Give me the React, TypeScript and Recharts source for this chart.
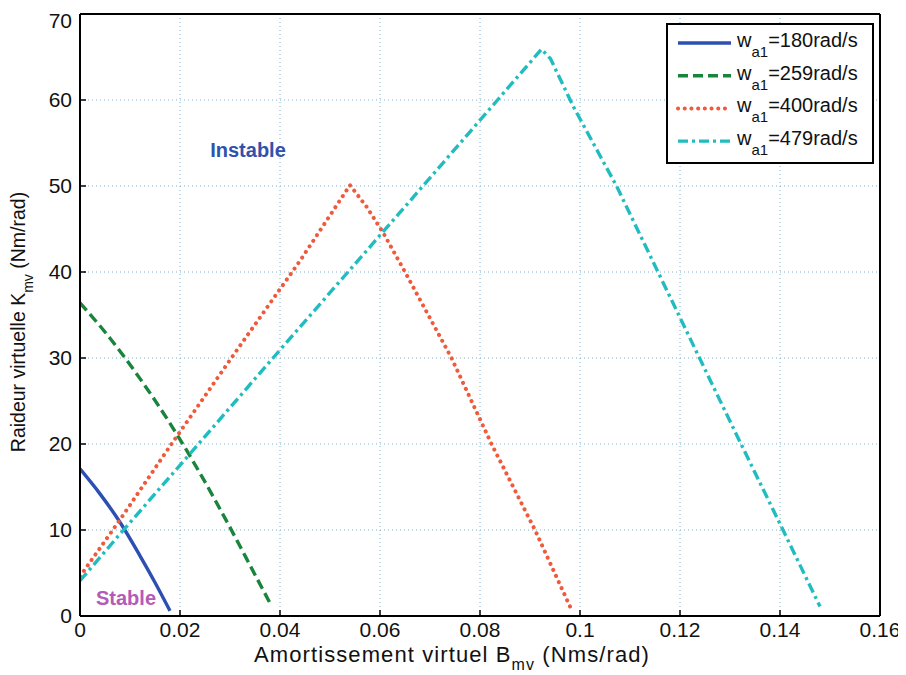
import React from "react";
import {
  LineChart,
  Line,
  XAxis,
  YAxis,
  CartesianGrid,
} from "recharts";

// Amortissement virtuel B_mv (Nms/rad) vs raideur virtuelle K_mv (Nm/rad)
const xTicks = [0, 0.02, 0.04, 0.06, 0.08, 0.1, 0.12, 0.14, 0.16];
const yTicks = [0, 10, 20, 30, 40, 50, 60, 70];

const b180 = [0, 0.004, 0.008, 0.012, 0.015, 0.018];
const k180 = [17.1, 14.2, 10.9, 7.0, 3.9, 0.6];

const b259 = [0, 0.006, 0.012, 0.018, 0.024, 0.03, 0.035, 0.038];
const k259 = [36.4, 32.3, 27.6, 22.4, 16.6, 10.3, 4.8, 1.5];

const b400 = [0, 0.008, 0.0183, 0.031, 0.044, 0.054, 0.0573, 0.0607, 0.065, 0.0743, 0.0823, 0.091, 0.098];
const k400 = [4.6, 11.2, 20, 30.6, 41.3, 50.1, 47.6, 44.5, 40, 30, 20, 10, 1.1];

const b479 = [0, 0.0087, 0.0237, 0.0386, 0.0536, 0.0686, 0.0835, 0.0923, 0.0941, 0.0987, 0.1073, 0.1156, 0.1239, 0.1322, 0.1406, 0.148];
const k479 = [4.1, 10, 20, 30, 40, 50, 60, 65.9, 64.8, 59.2, 50, 40, 30, 20, 10, 1.1];

const seriesNames = ["=180rad/s", "=259rad/s", "=400rad/s", "=479rad/s"];

const toPoints = (b: number[], k: number[]) => b.map((x, i) => ({ b: x, k: k[i] }));

const series = [
  { name: seriesNames[0], data: toPoints(b180, k180), color: "#2c4fb4", dash: undefined, width: 3.4, cap: "butt", type: "monotone" },
  { name: seriesNames[1], data: toPoints(b259, k259), color: "#18843c", dash: "10 5", width: 3.4, cap: "butt", type: "monotone" },
  { name: seriesNames[2], data: toPoints(b400, k400), color: "#ef5a3c", dash: "0.1 6.6", width: 4, cap: "round", type: "linear" },
  { name: seriesNames[3], data: toPoints(b479, k479), color: "#21bcc0", dash: "10 4 3 4", width: 3.4, cap: "butt", type: "linear" },
];

const W = 898;
const H = 667;
const font = "'Liberation Sans', Arial, Helvetica, sans-serif";
const tickStyle = { fontSize: 21, fill: "#111", fontFamily: font };

export default function App() {
  return (
    <div style={{ position: "relative", width: W, height: H }}>
      <LineChart width={W} height={H} margin={{ top: 5, right: 25, left: 0, bottom: 0 }}>
        <CartesianGrid stroke="#7fb0d0" strokeDasharray="1 3" />
        <XAxis
          dataKey="b"
          type="number"
          domain={[0, 0.16]}
          ticks={xTicks}
          allowDataOverflow
          height={59}
          tick={tickStyle}
          tickSize={-6}
          tickMargin={12}
          axisLine={{ stroke: "#000", strokeWidth: 2 }}
          tickLine={{ stroke: "#000", strokeWidth: 1.5 }}
        />
        <XAxis
          xAxisId="top"
          orientation="top"
          type="number"
          domain={[0, 0.16]}
          ticks={xTicks}
          height={1}
          tick={false}
          tickSize={-6}
          axisLine={{ stroke: "#000", strokeWidth: 2 }}
          tickLine={{ stroke: "#000", strokeWidth: 1.5 }}
        />
        <YAxis
          type="number"
          domain={[0, 70]}
          ticks={yTicks}
          allowDataOverflow
          width={72}
          tick={tickStyle}
          tickSize={-6}
          tickMargin={14}
          axisLine={{ stroke: "#000", strokeWidth: 2 }}
          tickLine={{ stroke: "#000", strokeWidth: 1.5 }}
        />
        <YAxis
          yAxisId="right"
          orientation="right"
          type="number"
          domain={[0, 70]}
          ticks={yTicks}
          width={1}
          tick={false}
          tickSize={-6}
          axisLine={{ stroke: "#000", strokeWidth: 2 }}
          tickLine={{ stroke: "#000", strokeWidth: 1.5 }}
        />
        {series.map((s) => (
          <Line
            key={s.name}
            data={s.data}
            dataKey="k"
            type={s.type as any}
            stroke={s.color}
            strokeWidth={s.width}
            strokeDasharray={s.dash}
            strokeLinecap={s.cap as any}
            dot={false}
            isAnimationActive={false}
          />
        ))}
      </LineChart>

      {/* titles, annotations and legend */}
      <svg
        width={W}
        height={H}
        style={{ position: "absolute", left: 0, top: 0, pointerEvents: "none", fontFamily: font }}
      >
        <text x={444} y={654} fontSize={22} letterSpacing={1.1} textAnchor="middle" fill="#111">
          Amortissement virtuel B
          <tspan dy={8} fontSize={16}>mv</tspan>
          <tspan dy={-8}> (Nms/rad)</tspan>
        </text>
        <text
          transform="translate(17,314) rotate(-90)"
          fontSize={19.5}
          textAnchor="middle"
          fill="#111"
        >
          Raideur virtuelle K
          <tspan dy={8} fontSize={14}>mv</tspan>
          <tspan dy={-8}> (Nm/rad)</tspan>
        </text>

        <text x={240} y={149} fontSize={20} fontWeight="bold" textAnchor="middle" fill="#2f52ac">
          Instable
        </text>
        <text x={118} y={597} fontSize={20} fontWeight="bold" textAnchor="middle" fill="#b45ab9">
          Stable
        </text>

        <rect x={659} y={16} width={206} height={139} fill="#fff" stroke="#000" strokeWidth={2} />
        {series.map((s, i) => {
          const cy = 35 + i * 32.7;
          return (
            <g key={s.name}>
              <line
                x1={670}
                x2={723}
                y1={cy}
                y2={cy}
                stroke={s.color}
                strokeWidth={s.width}
                strokeDasharray={s.dash}
                strokeLinecap={s.cap as any}
              />
              <text x={729} y={cy + 4} fontSize={20} fill="#111">
                w
                <tspan dy={10} fontSize={15}>a1</tspan>
                <tspan dy={-10}>{s.name}</tspan>
              </text>
            </g>
          );
        })}
      </svg>
    </div>
  );
}
